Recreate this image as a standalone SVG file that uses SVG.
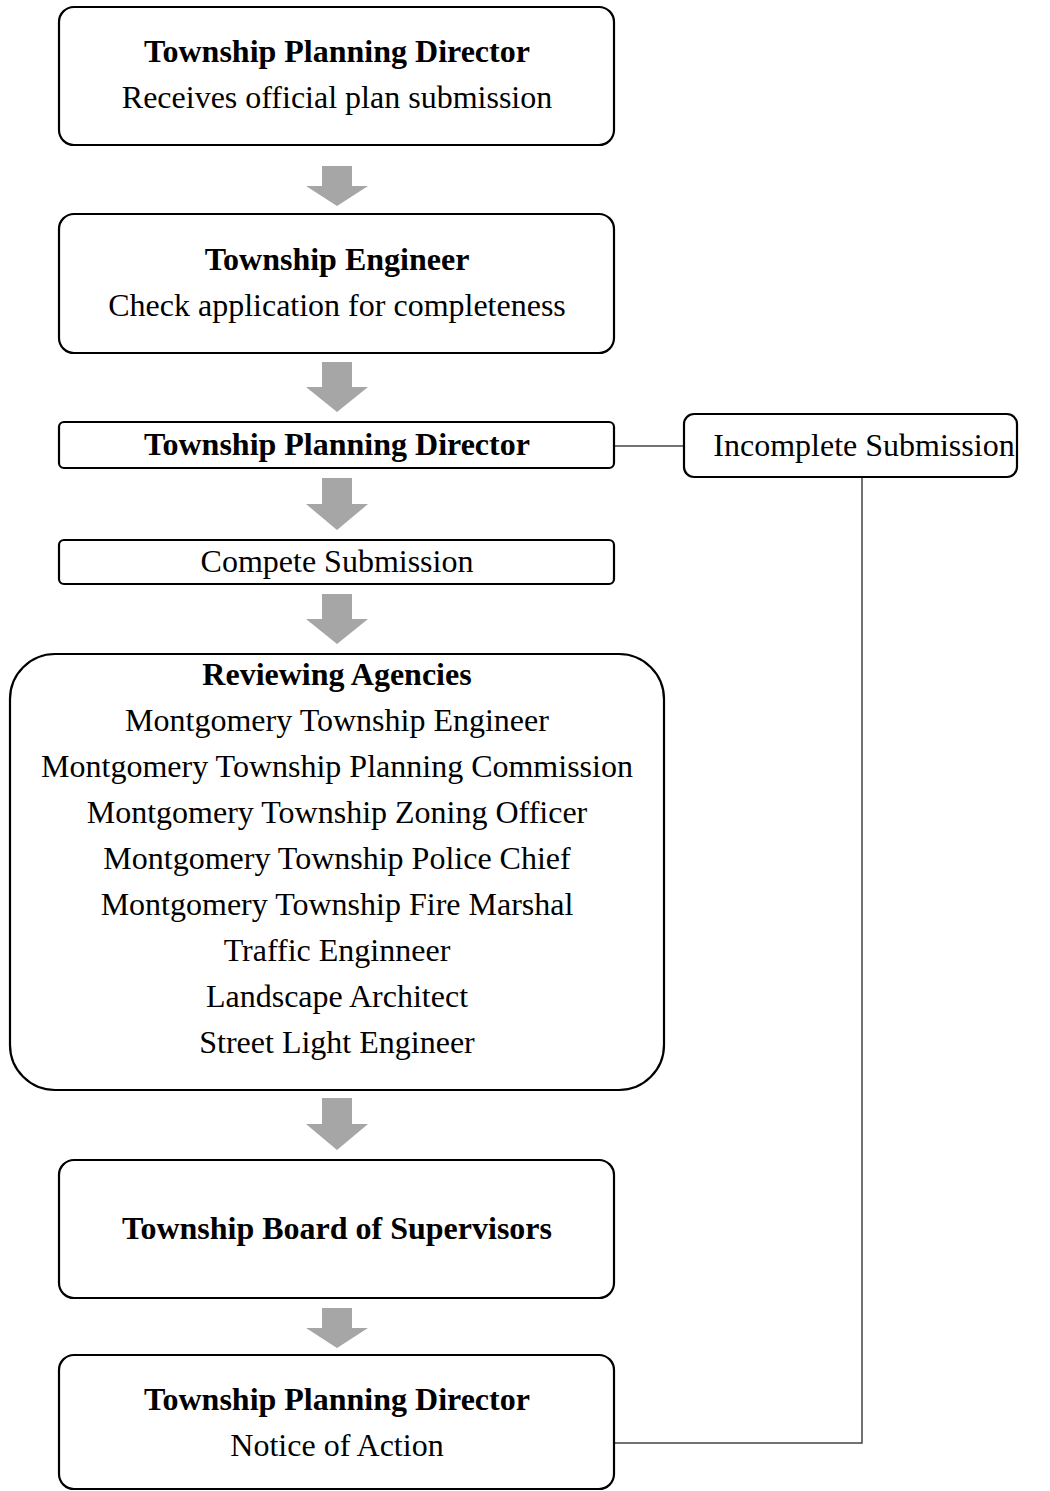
<svg xmlns="http://www.w3.org/2000/svg" width="1050" height="1491" viewBox="0 0 1050 1491">
<style>
.box{fill:#fff;stroke:#000;stroke-width:2.2}
.t{font-family:"Liberation Serif","Times New Roman",serif;font-size:32px;fill:#000;text-anchor:middle}
.b{font-weight:bold}
.arr{fill:#a6a6a6}
.ln{fill:none;stroke:#444;stroke-width:1.5}
</style>
<defs>
<path id="dn" d="M-15,0 H15 V20 H31 L0,40 L-31,20 H-15 Z"/>
</defs>
<g id="connectors">
<use href="#dn" class="arr" x="337" y="166"/>
<use href="#dn" class="arr" transform="translate(337,362) scale(1,1.25)"/>
<use href="#dn" class="arr" transform="translate(337,478) scale(1,1.3)"/>
<use href="#dn" class="arr" transform="translate(337,594) scale(1,1.25)"/>
<use href="#dn" class="arr" transform="translate(337,1098) scale(1,1.3)"/>
<use href="#dn" class="arr" transform="translate(337,1308) scale(1,1)"/>
<path class="ln" d="M614,446 H684"/>
<path class="ln" d="M862,477 V1443 H614"/>
</g>
<g id="n1">
<rect class="box" x="59" y="7" width="555" height="138" rx="15"/>
<text class="t b" x="337" y="62">Township Planning Director</text>
<text class="t" x="337" y="108">Receives official plan submission</text>
</g>
<g id="n2">
<rect class="box" x="59" y="214" width="555" height="139" rx="15"/>
<text class="t b" x="337" y="270">Township Engineer</text>
<text class="t" x="337" y="316">Check application for completeness</text>
</g>
<g id="n3">
<rect class="box" x="59" y="422" width="555" height="46" rx="5"/>
<text class="t b" x="337" y="455">Township Planning Director</text>
</g>
<g id="n4">
<rect class="box" x="684" y="414" width="333" height="63" rx="10"/>
<text class="t" x="864" y="456">Incomplete Submission</text>
</g>
<g id="n5">
<rect class="box" x="59" y="540" width="555" height="44" rx="5"/>
<text class="t" x="337" y="572">Compete Submission</text>
</g>
<g id="n6">
<rect class="box" x="10" y="654" width="654" height="436" rx="45"/>
<text class="t b" x="337" y="685">Reviewing Agencies</text>
<text class="t" x="337" y="731">Montgomery Township Engineer</text>
<text class="t" x="337" y="777">Montgomery Township Planning Commission</text>
<text class="t" x="337" y="823">Montgomery Township Zoning Officer</text>
<text class="t" x="337" y="869">Montgomery Township Police Chief</text>
<text class="t" x="337" y="915">Montgomery Township Fire Marshal</text>
<text class="t" x="337" y="961">Traffic Enginneer</text>
<text class="t" x="337" y="1007">Landscape Architect</text>
<text class="t" x="337" y="1053">Street Light Engineer</text>
</g>
<g id="n7">
<rect class="box" x="59" y="1160" width="555" height="138" rx="15"/>
<text class="t b" x="337" y="1239">Township Board of Supervisors</text>
</g>
<g id="n8">
<rect class="box" x="59" y="1355" width="555" height="134" rx="15"/>
<text class="t b" x="337" y="1410">Township Planning Director</text>
<text class="t" x="337" y="1456">Notice of Action</text>
</g>
</svg>
